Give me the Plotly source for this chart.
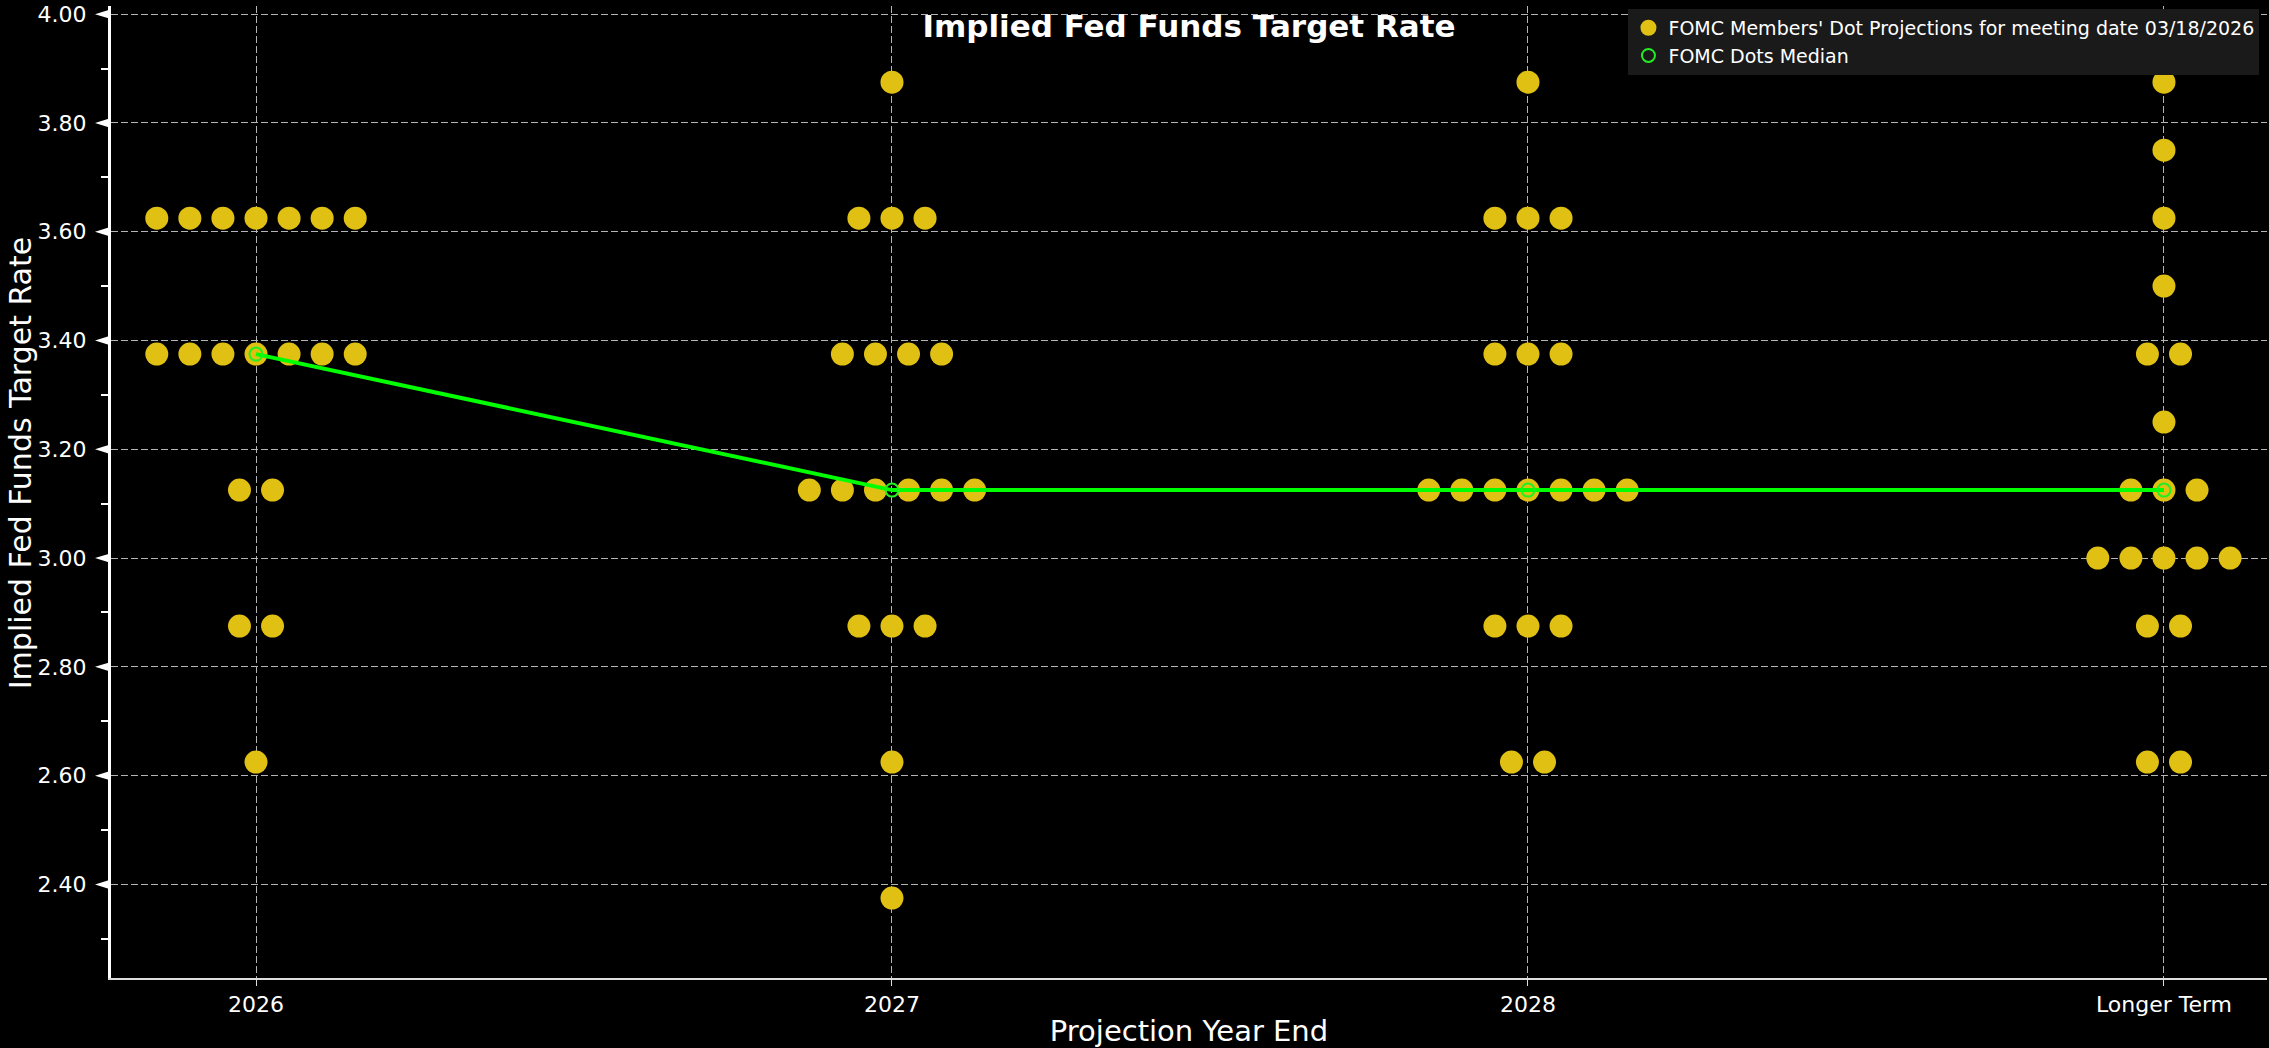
import plotly.graph_objects as go

categories = ["2026", "2027", "2028", "Longer Term"]

levels_2026 = [3.625, 3.375, 3.125, 2.875, 2.625]
counts_2026 = [7, 7, 2, 2, 1]

levels_2027 = [3.875, 3.625, 3.375, 3.125, 2.875, 2.625, 2.375]
counts_2027 = [1, 3, 4, 6, 3, 1, 1]

levels_2028 = [3.875, 3.625, 3.375, 3.125, 2.875, 2.625]
counts_2028 = [1, 3, 3, 7, 3, 2]

levels_lt = [3.875, 3.75, 3.625, 3.5, 3.375, 3.25, 3.125, 3.0, 2.875, 2.625]
counts_lt = [1, 1, 1, 1, 2, 1, 3, 5, 2, 2]

medians = [3.375, 3.125, 3.125, 3.125]

y_ticks = [2.4, 2.6, 2.8, 3.0, 3.2, 3.4, 3.6, 3.8, 4.0]

# ---- styling ----
W, H = 2269, 1048
ML, MR, MT, MB = 111, 2, 2, 66
Y_RANGE = [2.228, 4.015]
DOT_SPACING = 0.052
DOT_COLOR = "#E0C012"
GREEN = "#00FF00"
FONT = "DejaVu Sans"
GRID = "#b4b4b4"

groups = [
    (levels_2026, counts_2026),
    (levels_2027, counts_2027),
    (levels_2028, counts_2028),
    (levels_lt, counts_lt),
]

dot_x, dot_y = [], []
for ci, (levels, counts) in enumerate(groups):
    for lvl, n in zip(levels, counts):
        for i in range(n):
            dot_x.append(ci + (i - (n - 1) / 2) * DOT_SPACING)
            dot_y.append(lvl)

cat_x = list(range(len(categories)))

fig = go.Figure()
fig.add_trace(go.Scatter(
    x=dot_x, y=dot_y, mode="markers",
    name="FOMC Members' Dot Projections for meeting date 03/18/2026",
    marker=dict(size=23, color=DOT_COLOR, line=dict(width=0)),
))
fig.add_trace(go.Scatter(
    x=cat_x, y=medians, mode="lines", showlegend=False,
    line=dict(color=GREEN, width=4), hoverinfo="skip",
))
fig.add_trace(go.Scatter(
    x=cat_x, y=medians, mode="markers", name="FOMC Dots Median",
    marker=dict(symbol="circle-open", size=13, color="#22EE22", line=dict(width=2)),
))

# triangular tick markers on the y axis (drawn from the tick values)
plot_w = W - ML - MR
plot_h = H - MT - MB
px_x = 1.0 / plot_w
px_y = (Y_RANGE[1] - Y_RANGE[0]) / plot_h
shapes = []
for t in y_ticks:
    shapes.append(dict(
        type="path", xref="paper", yref="y", layer="above",
        path=f"M 0,{t + 5 * px_y} L {-16 * px_x},{t} L 0,{t - 5 * px_y} Z",
        fillcolor="white", line=dict(width=0),
    ))

fig.update_layout(
    width=W, height=H,
    paper_bgcolor="black", plot_bgcolor="black",
    margin=dict(l=ML, r=MR, t=MT, b=MB),
    font=dict(family=FONT, color="white", size=22),
    title=dict(text="<b>Implied Fed Funds Target Rate</b>", x=0.5, xref="paper",
               y=1 - 26 / H, yref="container", yanchor="middle", xanchor="center",
               font=dict(size=31, color="white", family=FONT)),
    showlegend=True,
    legend=dict(x=0.9965, xanchor="right", y=0.997, yanchor="top",
                bgcolor="#1a1a1a", borderwidth=0,
                font=dict(size=19, color="white", family=FONT),
                tracegroupgap=0),
    shapes=shapes,
    annotations=[dict(
        text="Implied Fed Funds Target Rate", textangle=-90,
        xref="paper", yref="paper", x=-(ML - 20) * px_x, y=1 - (463 - MT) / plot_h,
        xanchor="center", yanchor="middle", showarrow=False,
        font=dict(size=30, color="white", family=FONT),
    )],
)

fig.update_xaxes(
    range=[-0.228, 3.162], tickvals=cat_x, ticktext=categories,
    showgrid=True, gridcolor=GRID, gridwidth=1, griddash="7px,3px",
    zeroline=False, showline=True, linecolor="#dddddd", linewidth=2,
    ticks="outside", ticklen=6, tickcolor="#dddddd", tickwidth=1,
    tickfont=dict(size=22, color="white"),
    title=dict(text="Projection Year End", font=dict(size=29, color="white"), standoff=8),
)
fig.update_yaxes(
    range=Y_RANGE, tickvals=y_ticks, tickformat=".2f",
    showgrid=True, gridcolor=GRID, gridwidth=1, griddash="7px,3px",
    zeroline=False, showline=True, linecolor="white", linewidth=3,
    ticks="outside", ticklen=17, tickcolor="rgba(0,0,0,0)", tickwidth=1,
    tickfont=dict(size=22, color="white"), ticklabeloverflow="allow",
    minor=dict(dtick=0.1, ticks="outside", ticklen=7, tickcolor="white", tickwidth=2, showgrid=False),
)

fig.write_html(
    "out.html",
    config={"displayModeBar": False},
    post_script="document.body.style.margin='0';document.body.style.overflow='hidden';",
)
